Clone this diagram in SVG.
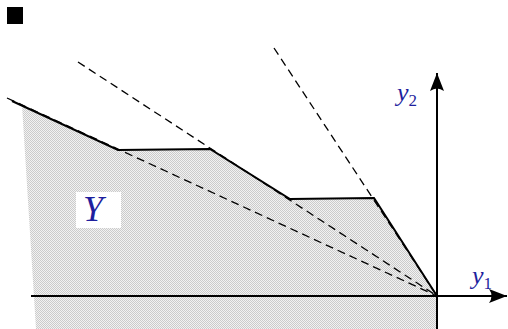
<svg xmlns="http://www.w3.org/2000/svg" width="508" height="329" viewBox="0 0 508 329">
<defs>
<pattern id="dots" width="2" height="2" patternUnits="userSpaceOnUse">
<rect width="2" height="2" fill="#f2f2f2"/>
<rect width="1" height="1" fill="#cbcbcb"/>
<rect x="1" y="1" width="1" height="1" fill="#cbcbcb"/>
</pattern>
<marker id="arr" viewBox="0 0 20 14" refX="18" refY="7" markerWidth="20" markerHeight="14" markerUnits="userSpaceOnUse" orient="auto">
<path d="M0,0 L18,7 L0,14 Q5,7 0,0 Z" fill="#000"/>
</marker>
<style>
.dash{stroke:#000;stroke-width:1.3;stroke-dasharray:8,5;fill:none}
.solid{stroke:#000;stroke-width:2;fill:none;stroke-linejoin:miter}
.axis{stroke:#000;stroke-width:2;fill:none}
.lbl{font-family:"Liberation Serif",serif;font-style:italic;fill:#1f1f9e}
</style>
</defs>
<rect x="7" y="7" width="16" height="17" fill="#000"/>
<g id="region">
<polygon points="22,105 118,150 210,149 290,199 374,198 437,296 437,329 36,329" fill="url(#dots)"/>
</g>
<g id="connectors">
<line class="dash" x1="7" y1="98" x2="437" y2="296"/>
<line class="dash" x1="78" y1="62" x2="437" y2="296"/>
<line class="dash" x1="274" y1="48" x2="437" y2="296"/>
<polyline class="solid" points="12,101 118,150 210,149 290,199 374,198 437,296"/>
<line class="axis" x1="31" y1="296" x2="507" y2="296" marker-end="url(#arr)"/>
<line class="axis" x1="437" y1="329" x2="437" y2="73" marker-end="url(#arr)"/>
</g>
<g id="label-Y">
<rect x="76" y="192" width="45" height="36" fill="#fff"/>
<text class="lbl" x="83" y="221" font-size="36">Y</text>
</g>
<g id="label-y2">
<text class="lbl" x="397" y="101" font-size="26">y<tspan font-style="normal" font-size="17" dy="5">2</tspan></text>
</g>
<g id="label-y1">
<text class="lbl" x="472" y="284" font-size="26">y<tspan font-style="normal" font-size="17" dy="5">1</tspan></text>
</g>
</svg>
